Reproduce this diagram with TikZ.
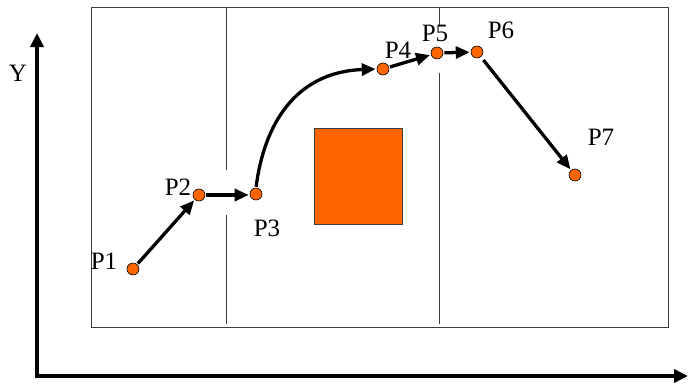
\documentclass[tikz,border=0pt]{standalone}
\usepackage{fontspec}
\setmainfont{Liberation Serif}
\usetikzlibrary{
  arrows.meta,
  positioning
}
\definecolor{pointOrange}{RGB}{255, 102, 0}
\definecolor{frameGray}{RGB}{60, 60, 60}

\begin{document}
\begin{tikzpicture}[
    x=1pt, y=-1pt,
    font=\fontsize{25}{28}\selectfont,
    pt/.style={circle, draw=black, fill=pointOrange, line width=0.6pt, minimum size=12pt, inner sep=0pt},
    lbl/.style={inner sep=0pt},
    move/.style={-{Triangle[length=14pt, width=12pt]}, line width=3.3pt, shorten <=1pt, shorten >=1pt},
    axis/.style={-{Triangle[length=14pt, width=13pt]}, line width=3.6pt},
    divider/.style={draw=frameGray, line width=0.8pt}
]
    \useasboundingbox (0,0) rectangle (688,386);

    % axes
    \coordinate (origin) at (37,376);
    \coordinate (ytip) at (37,33);
    \coordinate (xtip) at (688,376);
    \draw[axis] ([yshift=-1.8pt]origin) -- (ytip);
    \draw[axis] ([xshift=-1.8pt]origin) -- (xtip);
    \node[lbl] (ylabel) at (18,73) {Y};

    % area and its dividers
    \draw[divider, line width=1pt] (91,7) rectangle (668,327);
    \draw[divider] (226,8) -- (226,170);
    \draw[divider] (226,215) -- (226,324);
    \draw[divider] (439,7) -- (439,26);
    \draw[divider] (439,73) -- (439,324);

    % obstacle
    \node[rectangle, draw=frameGray, fill=pointOrange, line width=0.6pt, minimum width=88pt, minimum height=96pt, inner sep=0pt] (obstacle) at (358,176) {};

    % path points
    \node[pt] (p1) at (133,269) {};
    \node[pt] (p2) at (199,195) {};
    \node[pt] (p3) at (256,194) {};
    \node[pt] (p4) at (383,69) {};
    \node[pt] (p5) at (437,53) {};
    \node[pt] (p6) at (477,52) {};
    \node[pt] (p7) at (575,175) {};

    \node[lbl] (lp1) at (104,261) {P1};
    \node[lbl] (lp2) at (178,187) {P2};
    \node[lbl] (lp3) at (267,228) {P3};
    \node[lbl] (lp4) at (398,50) {P4};
    \node[lbl] (lp5) at (435,33) {P5};
    \node[lbl] (lp6) at (501,30) {P6};
    \node[lbl] (lp7) at (601,137) {P7};

    % moves
    \draw[move] (p1) -- (p2);
    \draw[move] (p2.east) -- (p2.east -| p3.west);
    \draw[move] (p3.north) .. controls (264,125) and (295,72) .. (p4.west);
    \draw[move] (p4) -- (p5);
    \draw[move] (p5) -- (p6);
    \draw[move, shorten <=4pt] (p6) -- (p7);

\end{tikzpicture}
\end{document}
